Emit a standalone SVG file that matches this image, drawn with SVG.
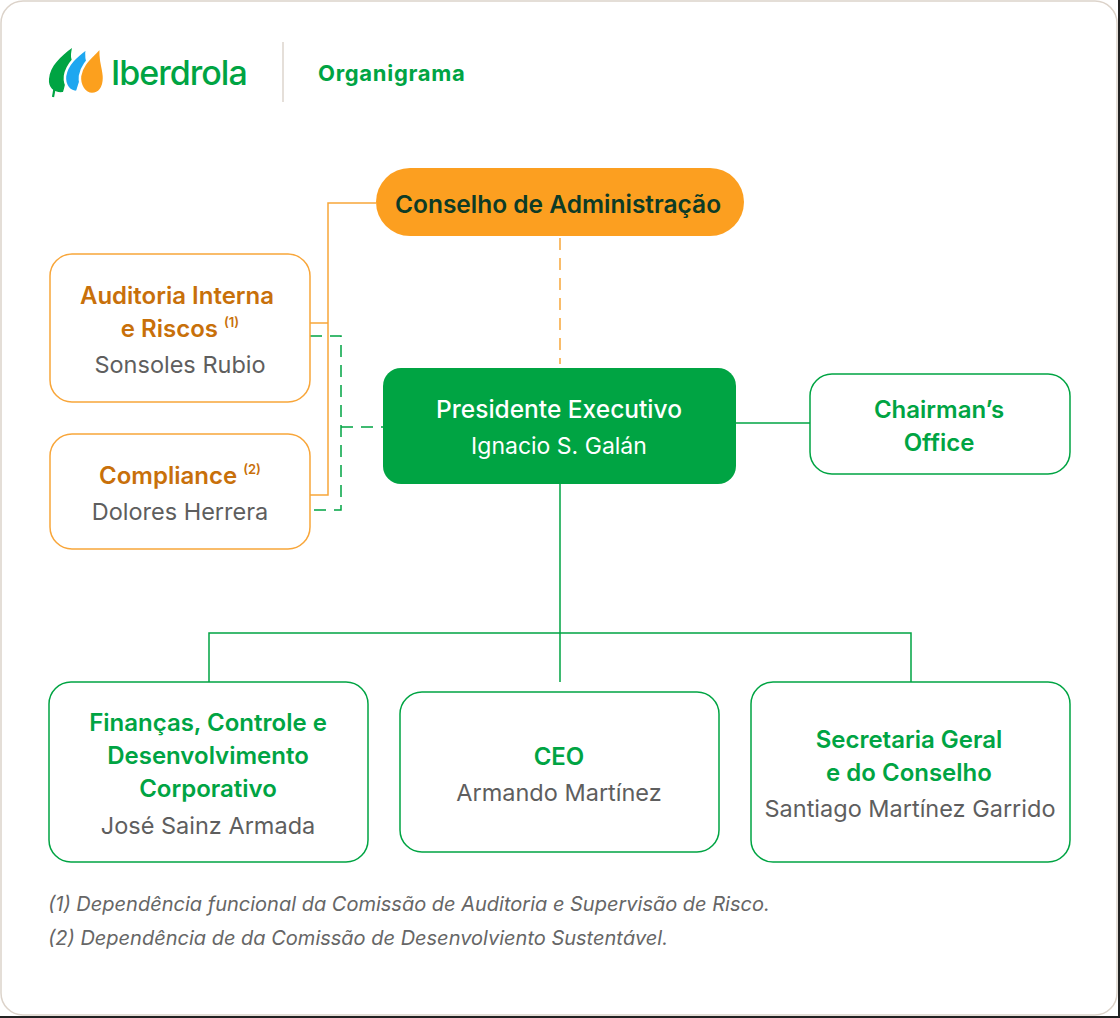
<svg xmlns="http://www.w3.org/2000/svg" width="1120" height="1018" viewBox="0 0 1120 1018">
<style>
.t{font-family:Inter,"Noto Sans","Liberation Sans",sans-serif;text-anchor:middle}
.g{fill:#00a443;font-weight:600;font-size:24px}
.o{fill:#c8700a;font-weight:600;font-size:24px}
.n{fill:#5e5e5e;font-weight:400;font-size:23.5px}
.sup{font-size:13px;font-weight:600}
.boxo{fill:#fff;stroke:#f8a63a;stroke-width:1.5}
.boxg{fill:#fff;stroke:#00a443;stroke-width:1.5}
.lo{fill:none;stroke:#f8a63a;stroke-width:1.5}
.lg{fill:none;stroke:#00a443;stroke-width:1.5}
.dash{stroke-dasharray:12 8}
.fn{font-family:Inter,"Noto Sans","Liberation Sans",sans-serif;font-style:italic;font-size:20px;fill:#666}
</style>
<rect x="0" y="0" width="1120" height="1018" fill="#fff"/>
<rect x="1118" y="0" width="2" height="1018" fill="#222"/>
<rect x="0" y="1016" width="1120" height="2" fill="#222"/>
<rect x="1" y="1" width="1116" height="1014" rx="22" fill="#fff" stroke="#dcd3ca" stroke-width="1.5"/>

<g id="header">
  <g id="logo">
    <path d="M72,48 C61,56 50,66 49,79 C48,88 55,93 63,92 C66,84 66,72 73,62 C70,58 71,53 72,48 Z" fill="#00a443"/>
    <path d="M55,86 L53,97" stroke="#00a443" stroke-width="2.2" fill="none"/>
    <path d="M87,48 C78,55 67,63 65,76 C64,86 70,92 77,92 C80,84 81,74 89,66 C86,60 86,54 87,48 Z" fill="#1ea7f0" stroke="#fff" stroke-width="2.5"/>
    <path d="M101,46 C95,55 82,62 80,76 C79,86 85,94 92,94 C99,94 104,88 104,78 C104,68 99,60 101,46 Z" fill="#fca01e" stroke="#fff" stroke-width="2.5"/>
    <text x="111" y="85" font-family="Inter,'Noto Sans',sans-serif" font-size="34" font-weight="500" fill="#00a443" letter-spacing="-1">Iberdrola</text>
  </g>
  <line x1="283" y1="42" x2="283" y2="102" stroke="#ddd5cc" stroke-width="1.5"/>
  <text x="318" y="81" font-family="Inter,'Noto Sans',sans-serif" font-size="22" font-weight="700" fill="#00a443" letter-spacing="0.7">Organigrama</text>
</g>

<g id="connectors">
  <path class="lo" d="M376,203 H328 V495 H310 M328,323 H310"/>
  <path class="lo dash" d="M560,238 V364"/>
  <path class="lg dash" d="M310,336 H341 V510 H310 M341,427 H383"/>
  <path class="lg" d="M736,423 H810"/>
  <path class="lg" d="M560,484 V682 M209,682 V633 H911 V682"/>
</g>

<g id="conselho">
  <rect x="376" y="168" width="368" height="68" rx="34" fill="#fc9f20"/>
  <text class="t" x="558" y="213" font-size="24.5" font-weight="600" fill="#0d3b26">Conselho de Administração</text>
</g>

<g id="presidente">
  <rect x="383" y="368" width="353" height="116" rx="18" fill="#00a443"/>
  <text class="t" x="559" y="418" font-size="24.5" font-weight="500" fill="#fff">Presidente Executivo</text>
  <text class="t" x="559" y="454" font-size="23" font-weight="400" fill="#fff">Ignacio S. Galán</text>
</g>

<g id="auditoria">
  <rect class="boxo" x="50" y="254" width="260" height="148" rx="22"/>
  <text class="t o" x="177" y="304">Auditoria Interna</text>
  <text class="t o" x="180" y="337">e Riscos <tspan class="sup" dy="-10">(1)</tspan></text>
  <text class="t n" x="180" y="373">Sonsoles Rubio</text>
</g>

<g id="compliance">
  <rect class="boxo" x="50" y="434" width="260" height="115" rx="22"/>
  <text class="t o" x="180" y="484">Compliance <tspan class="sup" dy="-10">(2)</tspan></text>
  <text class="t n" x="180" y="520">Dolores Herrera</text>
</g>

<g id="chairman">
  <rect class="boxg" x="810" y="374" width="260" height="100" rx="22"/>
  <text class="t g" x="939" y="418">Chairman’s</text>
  <text class="t g" x="939" y="451">Office</text>
</g>

<g id="financas">
  <rect class="boxg" x="49" y="682" width="319" height="180" rx="22"/>
  <text class="t g" x="208" y="731">Finanças, Controle e</text>
  <text class="t g" x="208" y="764">Desenvolvimento</text>
  <text class="t g" x="208" y="797">Corporativo</text>
  <text class="t n" x="208" y="834">José Sainz Armada</text>
</g>

<g id="ceo">
  <rect class="boxg" x="400" y="692" width="319" height="160" rx="22"/>
  <text class="t g" x="559" y="765">CEO</text>
  <text class="t n" x="559" y="801">Armando Martínez</text>
</g>

<g id="secretaria">
  <rect class="boxg" x="751" y="682" width="319" height="180" rx="22"/>
  <text class="t g" x="909" y="748">Secretaria Geral</text>
  <text class="t g" x="909" y="781">e do Conselho</text>
  <text class="t n" x="910" y="817">Santiago Martínez Garrido</text>
</g>

<g id="footnotes">
  <text class="fn" x="48" y="911">(1) Dependência funcional da Comissão de Auditoria e Supervisão de Risco.</text>
  <text class="fn" x="48" y="945">(2) Dependência de da Comissão de Desenvolviento Sustentável.</text>
</g>
</svg>
